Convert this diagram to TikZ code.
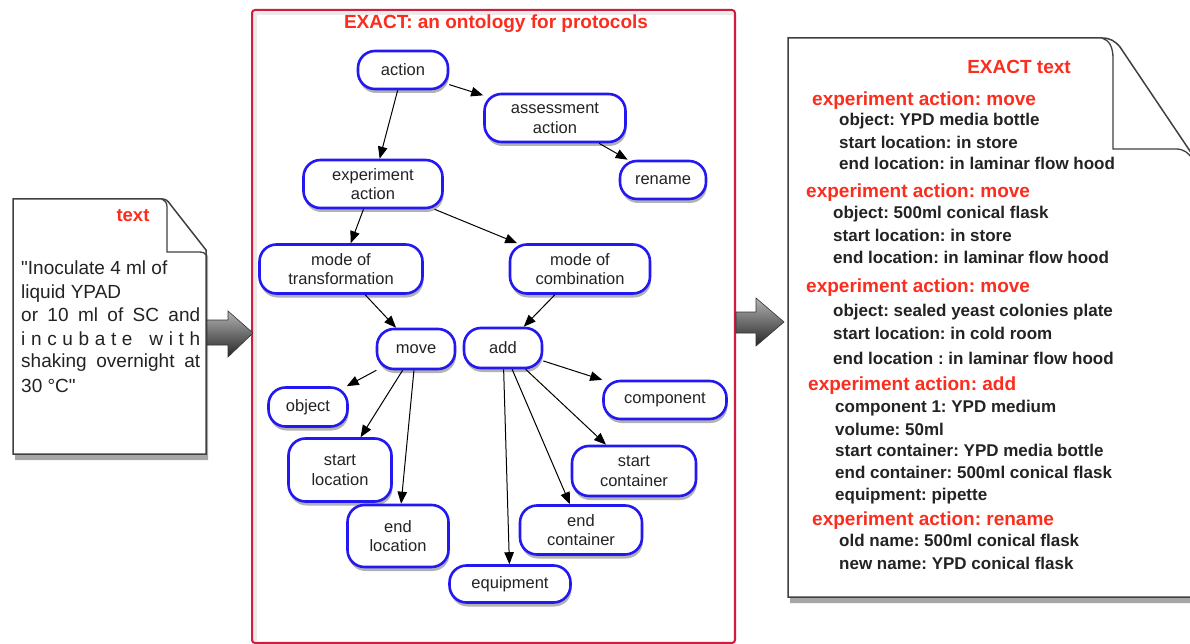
\documentclass[tikz,border=0pt]{standalone}
\usepackage{fontspec}
\setmainfont{Liberation Sans}
\usetikzlibrary{arrows.meta,shadows}
\definecolor{nodeblue}{RGB}{35,25,240}
\definecolor{framered}{RGB}{205,30,65}
\definecolor{txtred}{RGB}{250,45,30}
\definecolor{txtgray}{RGB}{35,35,35}
\frenchspacing
\newcommand\straightquote{\XeTeXglyph\XeTeXglyphindex "quotedbl"\relax}
\begin{document}
\begin{tikzpicture}[x=1pt,y=-1pt,
  concept/.style={draw=nodeblue, line width=2.6pt, fill=white, rounded corners=17pt,
    align=center, font=\fontsize{16.5}{19.5}\selectfont, text=txtgray, inner sep=0pt,
    drop shadow={shadow xshift=1pt, shadow yshift=-4pt, fill=black, opacity=0.3}},
  link/.style={-{Triangle[length=12pt,width=9.5pt]}, line width=1pt, black},
  doc/.style={draw=black!75, line width=1.5pt, fill=white,
    drop shadow={shadow xshift=2pt, shadow yshift=-6pt, fill=black, opacity=0.35}},
  fold/.style={draw=black!75, line width=1.3pt},
  bigarrow/.style={draw=black!80, line width=0.6pt, top color=gray!60, bottom color=black!85},
  hdr/.style={anchor=west, inner sep=0pt, text=txtred, font=\bfseries\fontsize{19}{22}\selectfont, text height=13pt, text depth=4pt},
  item/.style={anchor=west, inner sep=0pt, text=txtgray, font=\bfseries\fontsize{17}{20}\selectfont, text height=12pt, text depth=3.5pt},
  ltxt/.style={anchor=west, inner sep=0pt, text=txtgray, font=\fontsize{19}{23}\selectfont, text height=13.5pt, text depth=4pt}
]
\useasboundingbox (0,0) rectangle (1190,644);
\clip (0,0) rectangle (1190,644);
\fill[white] (0,0) rectangle (1190,644);

% ---------- central frame ----------
\fill[black!8] (252,10) rectangle (735,643);
\fill[white] (257,15) rectangle (733,641);
\draw[framered, line width=2pt, rounded corners=3pt] (252,10) rectangle (735,643);
\node[anchor=center, inner sep=0pt, text=txtred, font=\bfseries\fontsize{19}{22}\selectfont] (title) at (496,24) {EXACT: an ontology for protocols};

% ---------- concept nodes ----------
\node[concept, minimum width=90pt, minimum height=38pt] (action) at (403,70) {action};
\node[concept, minimum width=141pt, minimum height=48pt] (assess) at (555,118) {assessment\\action};
\node[concept, minimum width=86pt, minimum height=38pt] (rename) at (663,180) {rename};
\node[concept, minimum width=139pt, minimum height=48pt] (exp) at (373,184) {experiment\\action};
\node[concept, minimum width=163pt, minimum height=49pt] (modeT) at (341,269) {mode of\\transformation};
\node[concept, minimum width=140pt, minimum height=49pt] (modeC) at (580,269) {mode of\\combination};
\node[concept, minimum width=78pt, minimum height=40pt] (move) at (416,349) {move};
\node[concept, minimum width=78pt, minimum height=40pt] (add) at (503,348) {add};
\node[concept, minimum width=79pt, minimum height=39pt] (object) at (308,407) {object};
\node[concept, minimum width=123pt, minimum height=38pt] (component) at (665,400) {component};
\node[concept, minimum width=103pt, minimum height=63pt] (startloc) at (340,470) {start\\location};
\node[concept, minimum width=101pt, minimum height=62pt] (endloc) at (398,536) {end\\location};
\node[concept, minimum width=124pt, minimum height=50pt] (startcon) at (634,471) {start\\container};
\node[concept, minimum width=122pt, minimum height=49pt] (endcon) at (581,530) {end\\container};
\node[concept, minimum width=121pt, minimum height=37pt] (equip) at (510,584) {equipment};

% ---------- connectors ----------
\draw[link] (action) -- (exp);
\draw[link] (action) -- (assess);
\draw[link] (assess) -- (rename);
\draw[link] (exp) -- (modeT);
\draw[link] (exp) -- (modeC);
\draw[link] (modeT) -- (move);
\draw[link] (modeC) -- (add);
\draw[link] (move) -- (object);
\draw[link] (move) -- (startloc);
\draw[link] (move) -- (endloc);
\draw[link] (add) -- (component);
\draw[link] (add) -- (startcon);
\draw[link] (add) -- (endcon);
\draw[link] (add) -- (equip);

% ---------- left document ----------
\draw[doc] (13,199) -- (162,199) .. controls (166,199) and (168,201) .. (170,204) -- (206,250) -- (206,454) -- (13,454) -- cycle;
\draw[fold] (162,199) .. controls (165,200) and (167,203) .. (167,207) -- (167,252) -- (200,252) .. controls (203,252) and (205,253) .. (206,255);
\node[anchor=center, inner sep=0pt, text=txtred, font=\bfseries\fontsize{18.5}{22}\selectfont] (ltitle) at (133,216) {text};
\node[ltxt] (l1) at (21,270) {\straightquote Inoculate 4 ml of};
\node[ltxt] (l2) at (21,294) {liquid YPAD};
\node[ltxt] (l3) at (21,317) {\makebox[179pt][s]{or 10 ml of SC and}};
\node[ltxt] (l4) at (21,341) {\makebox[179pt][s]{i\hfil n\hfil c\hfil u\hfil b\hfil a\hfil t\hfil e\hfil\hfil\hfil w\hfil i\hfil t\hfil h}};
\node[ltxt] (l5) at (21,363) {\makebox[179pt][s]{shaking overnight at}};
\node[ltxt] (l6) at (21,388) {30 °C\straightquote};

% ---------- big gray arrows ----------
\coordinate (a1s) at (207,333);
\coordinate (a1t) at (253,333);
\draw[bigarrow] (a1s |- 0,320) -- (228,320) -- (228,311) -- (a1t) -- (228,357) -- (228,345) -- (a1s |- 0,345) -- cycle;
\coordinate (a2s) at (736,322);
\coordinate (a2t) at (784,322);
\draw[bigarrow] (a2s |- 0,312) -- (756,312) -- (756,298) -- (a2t) -- (756,346) -- (756,333) -- (a2s |- 0,333) -- cycle;

% ---------- right document ----------
\draw[doc] (788,38) -- (1102,38) .. controls (1110,38) and (1115,41) .. (1120,47) -- (1196,160) -- (1196,597) -- (788,597) -- cycle;
\draw[fold] (1102,38) .. controls (1109,40) and (1113,47) .. (1113,58) -- (1113,149) -- (1176,149) .. controls (1184,149) and (1188,153) .. (1192,158);
\node[anchor=center, inner sep=0pt, text=txtred, font=\bfseries\fontsize{19}{22}\selectfont] (rtitle) at (1019,67) {EXACT text};

\node[hdr] (h1) at (812,101) {experiment action: move};
\node[item] (h1a) at (839,121) {object: YPD media bottle};
\node[item] (h1b) at (839,144) {start location: in store};
\node[item] (h1c) at (839,165) {end location: in laminar flow hood};

\node[hdr] (h2) at (806,193) {experiment action: move};
\node[item] (h2a) at (833,214) {object: 500ml conical flask};
\node[item] (h2b) at (833,237) {start location: in store};
\node[item] (h2c) at (833,259) {end location: in laminar flow hood};

\node[hdr] (h3) at (806,288) {experiment action: move};
\node[item] (h3a) at (833,312) {object: sealed yeast colonies plate};
\node[item] (h3b) at (833,335) {start location: in cold room};
\node[item] (h3c) at (833,360) {end location : in laminar flow hood};

\node[hdr] (h4) at (808,386) {experiment action: add};
\node[item] (h4a) at (835,408) {component 1: YPD medium};
\node[item] (h4b) at (835,431) {volume: 50ml};
\node[item] (h4c) at (835,452) {start container: YPD media bottle};
\node[item] (h4d) at (835,474) {end container: 500ml conical flask};
\node[item] (h4e) at (835,496) {equipment: pipette};

\node[hdr] (h5) at (812,521) {experiment action: rename};
\node[item] (h5a) at (839,542) {old name: 500ml conical flask};
\node[item] (h5b) at (839,565) {new name: YPD conical flask};
\end{tikzpicture}
\end{document}
